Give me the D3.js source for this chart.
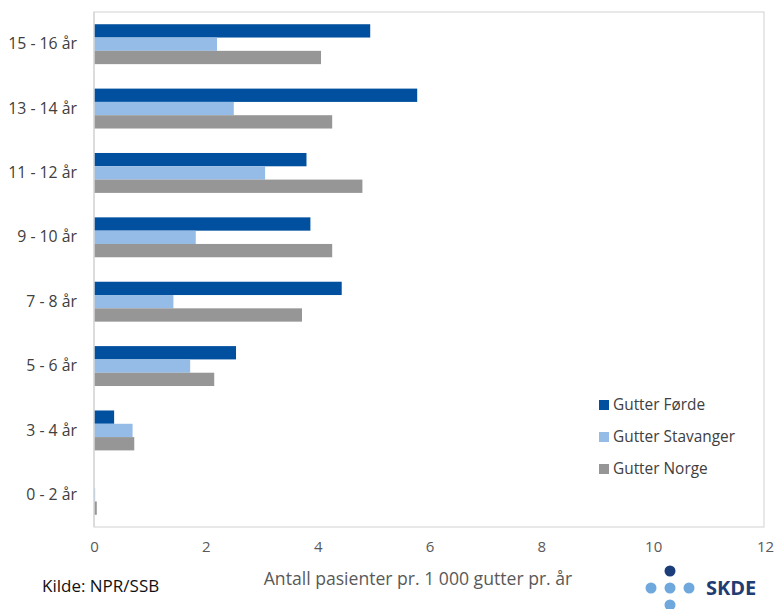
<!DOCTYPE html>
<html>
<head>
<meta charset="utf-8">
<script src="https://cdn.jsdelivr.net/npm/d3@7"></script>
<style>
  html, body { margin: 0; padding: 0; background: #fff; }
  svg { display: block; font-family: "Open Sans", Lato, sans-serif; }
</style>
</head>
<body>
<svg id="chart" width="774" height="609"></svg>
<script>
// Age groups, top to bottom
const categories = ["15 - 16 år", "13 - 14 år", "11 - 12 år", "9 - 10 år", "7 - 8 år", "5 - 6 år", "3 - 4 år", "0 - 2 år"];
// Patients per 1 000 boys per year
const forde     = [4.94, 5.78, 3.80, 3.87, 4.43, 2.54, 0.36, 0.00];
const stavanger = [2.20, 2.50, 3.06, 1.82, 1.42, 1.72, 0.69, 0.02];
const norge     = [4.06, 4.26, 4.80, 4.26, 3.72, 2.15, 0.72, 0.05];
const seriesNames = ["Gutter Førde", "Gutter Stavanger", "Gutter Norge"];
const seriesColors = ["#01509f", "#95bce6", "#969696"];
const xTicks = [0, 2, 4, 6, 8, 10, 12];

const seriesValues = [forde, stavanger, norge];
const rows = categories.map((c, i) => ({
  cat: c,
  vals: seriesNames.map((s, j) => ({ series: s, color: seriesColors[j], value: seriesValues[j][i] }))
}));

const FONT = "'Open Sans', Lato, sans-serif";
const svg = d3.select("#chart");
const plot = { left: 94, right: 765, top: 12, bottom: 527 };

const x = d3.scaleLinear().domain([0, 12]).range([plot.left, plot.right]);
const y = d3.scaleBand().domain(categories).range([plot.top, plot.bottom])
  .paddingInner(0.38).paddingOuter(0.19);
const ySub = d3.scaleBand().domain(seriesNames).range([0, y.bandwidth()]);

// Plot frame
svg.append("rect")
  .attr("x", plot.left).attr("y", plot.top)
  .attr("width", plot.right - plot.left - 1).attr("height", plot.bottom - plot.top)
  .attr("fill", "none").attr("stroke", "#d9d9d9").attr("stroke-width", 1.2);

// Bars
const groups = svg.append("g").selectAll("g").data(rows).join("g")
  .attr("transform", d => `translate(0,${y(d.cat)})`);
groups.selectAll("rect").data(d => d.vals).join("rect")
  .attr("x", x(0))
  .attr("y", d => ySub(d.series))
  .attr("height", ySub.bandwidth())
  .attr("width", d => x(d.value) - x(0))
  .attr("fill", d => d.color);

// Left axis line
svg.append("line")
  .attr("x1", x(0)).attr("x2", x(0))
  .attr("y1", plot.top).attr("y2", plot.bottom)
  .attr("stroke", "#d9d9d9").attr("stroke-width", 1.5);

// Category axis
const yAxis = svg.append("g").attr("transform", `translate(${plot.left},0)`)
  .call(d3.axisLeft(y).tickSize(0).tickPadding(17));
yAxis.select(".domain").remove();
yAxis.selectAll("text").attr("font-size", 15.8).attr("fill", "#404040")
  .attr("font-family", FONT);

// Value axis
const xAxis = svg.append("g").attr("transform", `translate(0,${plot.bottom})`)
  .call(d3.axisBottom(x).tickValues(xTicks).tickFormat(d3.format("d")).tickSize(0).tickPadding(14));
xAxis.select(".domain").remove();
xAxis.selectAll("text").attr("font-size", 15).attr("fill", "#595959")
  .attr("font-family", FONT);

// Axis title
svg.append("text")
  .attr("x", 418).attr("y", 585)
  .attr("text-anchor", "middle")
  .attr("font-size", 17.6).attr("fill", "#595959")
  .text("Antall pasienter pr. 1 000 gutter pr. år");

// Source
svg.append("text")
  .attr("x", 42).attr("y", 592)
  .attr("font-size", 17).attr("fill", "#111")
  .text("Kilde: NPR/SSB");

// Legend
const legend = svg.append("g").attr("transform", "translate(599,405)");
seriesNames.forEach((s, i) => {
  const g = legend.append("g").attr("transform", `translate(0,${i * 32})`);
  g.append("rect").attr("x", 0).attr("y", -5).attr("width", 10).attr("height", 10)
    .attr("fill", seriesColors[i]);
  g.append("text").attr("x", 14).attr("y", 0).attr("dy", "0.35em")
    .attr("font-size", 15.4).attr("fill", "#404040").text(s);
});

// SKDE logo
const logo = svg.append("g");
const dots = [
  { cx: 670, cy: 571, c: "#1b3d7a" },
  { cx: 651, cy: 588, c: "#6fa8dc" },
  { cx: 670, cy: 588, c: "#6fa8dc" },
  { cx: 689, cy: 588, c: "#6fa8dc" },
  { cx: 670, cy: 605, c: "#6fa8dc" }
];
logo.selectAll("circle").data(dots).join("circle")
  .attr("cx", d => d.cx).attr("cy", d => d.cy).attr("r", 5.5).attr("fill", d => d.c);
logo.append("text")
  .attr("x", 706).attr("y", 595)
  .attr("font-size", 20).attr("font-weight", "bold").attr("fill", "#1f3d73")
  .attr("font-family", FONT)
  .text("SKDE");
</script>
</body>
</html>
